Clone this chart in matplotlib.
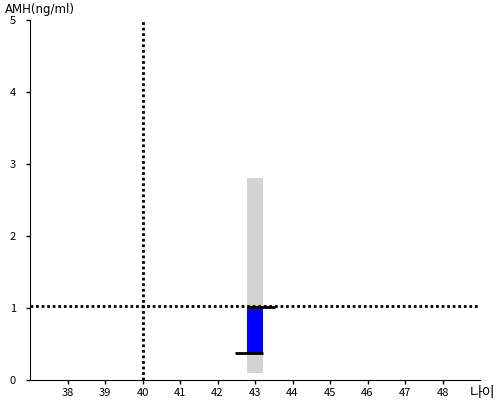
import matplotlib
matplotlib.use("Agg")
import matplotlib.pyplot as plt

plt.rcParams['font.family'] = ['Noto Sans CJK KR', 'DejaVu Sans']

# data
age = 43
amh_value = 1.02
amh_low = 0.37
range_low, range_high = 0.1, 2.8
ref_age = 40
ref_amh = 1.03
x_ticks = list(range(38, 49))
y_ticks = [0, 1, 2, 3, 4, 5]

bar_w = 0.43

fig = plt.figure(figsize=(5, 4), dpi=100)
ax = fig.add_axes([0.06, 0.05, 0.90, 0.90])

# normal range (gray) and patient value (blue)
ax.bar(age, range_high - range_low, bottom=range_low, width=bar_w,
       color='#d3d3d3', zorder=1)
ax.bar(age, amh_value - amh_low, bottom=amh_low, width=bar_w,
       color='#0000ff', zorder=2)
ax.plot([age - bar_w / 2, age + 0.52], [amh_value, amh_value],
        color='black', lw=2, zorder=4, solid_capstyle='butt')
ax.plot([age - 0.53, age + bar_w / 2], [amh_low, amh_low],
        color='black', lw=2, zorder=4, solid_capstyle='butt')

# reference lines
ax.axvline(ref_age, color='black', ls=(0, (1, 1)), lw=2, zorder=3)
ax.axhline(ref_amh, color='black', ls=(0, (1, 1)), lw=2, zorder=3)

ax.set_xlim(37, 49)
ax.set_ylim(0, 5)
ax.set_xticks(x_ticks)
ax.set_yticks(y_ticks)
ax.tick_params(labelsize=8, length=3, width=1, pad=3)
ax.tick_params(axis='y', pad=7)
for s in ['top', 'right']:
    ax.spines[s].set_visible(False)

fig.text(0.01, 0.975, 'AMH(ng/ml)', fontsize=8.5, ha='left', va='center',
         family=['DejaVu Sans'])
fig.text(0.99, 0.017, '나이', fontsize=10, ha='right', va='center')

fig.savefig('out.png', dpi=100)
